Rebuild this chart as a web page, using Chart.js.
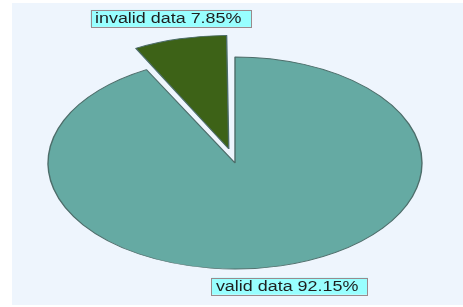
<!DOCTYPE html>
<html>
<head>
<meta charset="utf-8">
<script src="https://cdn.jsdelivr.net/npm/chart.js@4/dist/chart.umd.min.js"></script>
<style>
  html, body { margin: 0; padding: 0; background: #ffffff; }
  #panel { position: absolute; left: 12px; top: 3px; width: 451px; height: 302px; background: #eef5fd; }
  #myChart { display: block; }
</style>
</head>
<body>
<div id="panel"><canvas id="myChart" width="451" height="302"></canvas></div>
<script>
var myLabels = ['valid data', 'invalid data'];
var myValues = [92.15, 7.85];
var myColors = ['#65aaa3', '#3d6217'];
var myOffsets = [0, 58];

var stretchX = 1.764;   // pie is an ellipse
var textStretch = 1.28; // text is widened too

// squash the round pie into an ellipse
const ellipsePlugin = {
    id: 'ellipse',
    beforeDatasetsDraw(chart) {
        const arc = chart.getDatasetMeta(0).data[0];
        const ctx = chart.ctx;
        ctx.save();
        ctx.translate(arc.x, arc.y);
        ctx.scale(stretchX, 1);
        ctx.translate(-arc.x, -arc.y);
    },
    afterDatasetsDraw(chart) {
        chart.ctx.restore();
    }
};

// boxed labels outside each slice
const labelPlugin = {
    id: 'boxLabels',
    afterDraw(chart) {
        const ctx = chart.ctx;
        const data = chart.data.datasets[0].data;
        const total = data.reduce((a, b) => a + b, 0);
        chart.getDatasetMeta(0).data.forEach((arc, i) => {
            const mid = (arc.startAngle + arc.endAngle) / 2;
            const circ = arc.endAngle - arc.startAngle;
            const off = (arc.options.offset || 0) / 4;
            const shift = off * (2 - Math.sin(Math.min(Math.PI, circ)));
            const r = arc.outerRadius + shift + 21;
            const cx = arc.x + Math.cos(mid) * r * stretchX;
            const cy = arc.y + Math.sin(mid) * r;
            const text = chart.data.labels[i] + ' ' + (data[i] / total * 100).toFixed(2) + '%';

            ctx.save();
            ctx.font = '14px "Liberation Sans", Arial, sans-serif';
            const w = ctx.measureText(text).width * textStretch + 14;
            const h = 17;
            ctx.fillStyle = '#98ffff';
            ctx.fillRect(cx - w / 2, cy - h / 2, w, h);
            ctx.strokeStyle = '#9a8a8c';
            ctx.lineWidth = 1;
            ctx.strokeRect(Math.round(cx - w / 2) + 0.5, Math.round(cy - h / 2) + 0.5, Math.round(w), h);
            ctx.translate(cx, cy);
            ctx.scale(textStretch, 1);
            ctx.fillStyle = '#1e1e1e';
            ctx.textAlign = 'center';
            ctx.textBaseline = 'middle';
            ctx.fillText(text, -2, 1);
            ctx.restore();
        });
    }
};

config = {
    type: 'pie',
    data: {
        labels: myLabels,
        datasets: [{
            data: myValues,
            backgroundColor: myColors,
            borderColor: '#4d6d6a',
            borderWidth: 0.8,
            offset: myOffsets,
            hoverOffset: 0
        }]
    },
    options: {
        responsive: false,
        animation: false,
        radius: 106,
        layout: {
            padding: { left: 0, right: 5, top: 18, bottom: 0 }
        },
        plugins: {
            legend: { display: false },
            tooltip: { enabled: false }
        }
    },
    plugins: [ellipsePlugin, labelPlugin]
};

const ctx = document.getElementById('myChart');
const myChart = new Chart(ctx, config);
</script>
</body>
</html>
